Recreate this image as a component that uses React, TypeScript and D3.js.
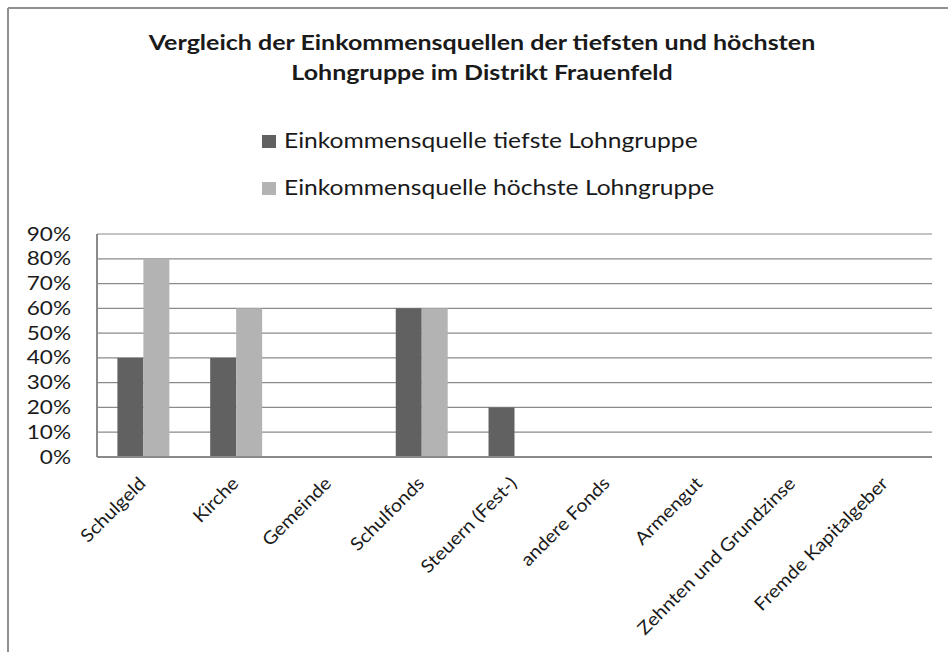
import React from "react";
import * as d3 from "d3";

const categories = [
  "Schulgeld",
  "Kirche",
  "Gemeinde",
  "Schulfonds",
  "Steuern (Fest-)",
  "andere Fonds",
  "Armengut",
  "Zehnten und Grundzinse",
  "Fremde Kapitalgeber",
];
const seriesNames = [
  "Einkommensquelle tiefste Lohngruppe",
  "Einkommensquelle höchste Lohngruppe",
];
const tiefste = [0.4, 0.4, 0, 0.6, 0.2, 0, 0, 0, 0];
const hoechste = [0.8, 0.6, 0, 0.6, 0, 0, 0, 0, 0];
const yTicks = [0, 0.1, 0.2, 0.3, 0.4, 0.5, 0.6, 0.7, 0.8, 0.9];
const titleLines = [
  "Vergleich der Einkommensquellen der tiefsten und höchsten",
  "Lohngruppe im Distrikt Frauenfeld",
];

const W = 948;
const H = 652;
const SX = 1.22;
const FONT = "Lato, 'Open Sans', sans-serif";
const colors = ["#616161", "#b3b3b3"];
const gridColor = "#8a8a8a";

const plot = { left: 97, right: 932, top: 234, bottom: 457 };

export default function App() {
  const x0 = d3
    .scaleBand<string>()
    .domain(categories)
    .range([plot.left, plot.right])
    .paddingInner(0.44)
    .paddingOuter(0.22);
  const x1 = d3
    .scaleBand<number>()
    .domain([0, 1])
    .range([0, x0.bandwidth()]);
  const y = d3.scaleLinear().domain([0, 0.9]).range([plot.bottom, plot.top]);
  const fmt = d3.format(".0%");
  const series = [tiefste, hoechste];
  const step = (plot.right - plot.left) / categories.length;

  return (
    <svg
      width={W}
      height={H}
      style={{ position: "absolute", left: 0, top: 0, background: "#fff" }}
    >
      <rect x={0} y={0} width={W} height={H} fill="#fff" />
      {/* outer frame */}
      <line x1={8} y1={8} x2={W} y2={8} stroke="#8f8f8f" strokeWidth={2} />
      <line x1={8} y1={8} x2={8} y2={H} stroke="#8f8f8f" strokeWidth={2} />

      {/* title */}
      {titleLines.map((t, i) => (
        <g key={t} transform={`translate(482,${50 + i * 30}) scale(${SX},1)`}>
          <text
            textAnchor="middle"
            fontFamily={FONT}
            fontWeight="bold"
            fontSize={20.5}
            fill="#1a1a1a"
          >
            {t}
          </text>
        </g>
      ))}

      {/* legend */}
      {seriesNames.map((s, i) => (
        <g key={s}>
          <rect x={262} y={135 + i * 47} width={14} height={13} fill={colors[i]} />
          <g transform={`translate(284,${148 + i * 47}) scale(${SX},1)`}>
            <text fontFamily={FONT} fontSize={20.2} fill="#1a1a1a">
              {s}
            </text>
          </g>
        </g>
      ))}

      {/* gridlines */}
      {yTicks.map((t) => (
        <line
          key={t}
          x1={plot.left}
          x2={plot.right}
          y1={y(t)}
          y2={y(t)}
          stroke={gridColor}
          strokeWidth={1.2}
        />
      ))}

      {/* bars */}
      {categories.map((c, ci) =>
        series.map((vals, si) =>
          vals[ci] > 0 ? (
            <rect
              key={c + si}
              x={(x0(c) as number) + (x1(si) as number)}
              y={y(vals[ci])}
              width={x1.bandwidth()}
              height={y(0) - y(vals[ci])}
              fill={colors[si]}
            />
          ) : null
        )
      )}

      {/* axes lines */}
      <line
        x1={plot.left}
        x2={plot.left}
        y1={plot.top}
        y2={plot.bottom}
        stroke={gridColor}
        strokeWidth={2}
      />
      <line
        x1={plot.left}
        x2={plot.right}
        y1={plot.bottom}
        y2={plot.bottom}
        stroke={gridColor}
        strokeWidth={2}
      />

      {/* y tick labels */}
      {yTicks.map((t) => (
        <g key={t} transform={`translate(71,${y(t) + 6.6}) scale(${SX},1)`}>
          <text textAnchor="end" fontFamily={FONT} fontSize={18.5} fill="#1a1a1a">
            {fmt(t)}
          </text>
        </g>
      ))}

      {/* x category labels */}
      {categories.map((c, ci) => {
        const cx = plot.left + step * (ci + 0.5);
        return (
          <g
            key={c}
            transform={`translate(${cx - 6},${475}) rotate(-45) scale(1.1,1)`}
          >
            <text
              textAnchor="end"
              dy="0.75em"
              fontFamily={FONT}
              fontSize={18}
              fill="#1a1a1a"
            >
              {c}
            </text>
          </g>
        );
      })}
    </svg>
  );
}
